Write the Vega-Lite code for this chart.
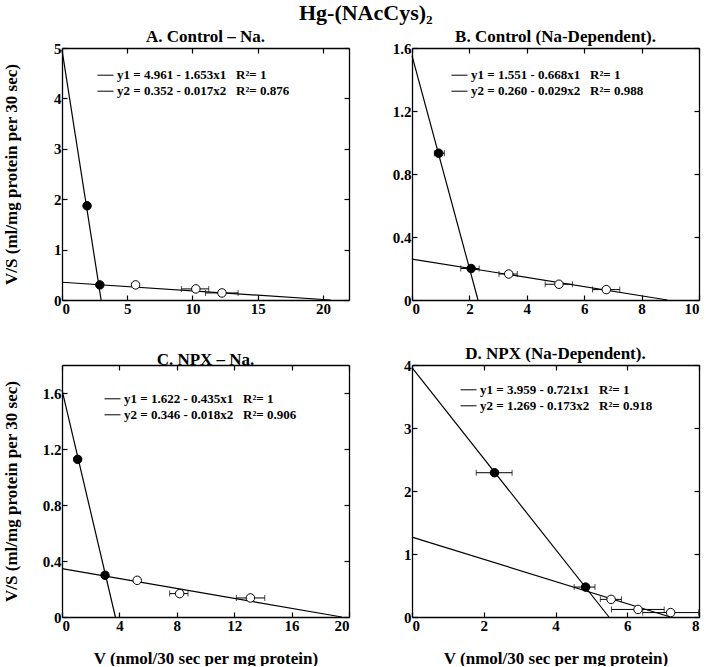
{
  "$schema": "https://vega.github.io/schema/vega-lite/v6.json",
  "padding": {"left": 1, "top": 2, "right": 5, "bottom": 0},
  "background": "white",
  "title": {"text": "Hg-(NAcCys)₂", "fontSize": 22, "fontWeight": "bold", "font": "Liberation Serif", "anchor": "middle", "offset": 3, "dx": 15},
  "datasets": {
    "linesA": [
      {"fit": "y1 = 4.961 - 1.653x1\u00a0\u00a0\u00a0R²= 1", "x": 0, "y": 4.961},
      {"fit": "y1 = 4.961 - 1.653x1\u00a0\u00a0\u00a0R²= 1", "x": 3.0, "y": 0},
      {"fit": "y2 = 0.352 - 0.017x2\u00a0\u00a0\u00a0R²= 0.876", "x": 0, "y": 0.352},
      {"fit": "y2 = 0.352 - 0.017x2\u00a0\u00a0\u00a0R²= 0.876", "x": 20.6, "y": 0}
    ],
    "ptsA": [
      {"kind": "filled", "x": 1.92, "y": 1.87, "lo": null, "hi": null},
      {"kind": "filled", "x": 2.9, "y": 0.30, "lo": null, "hi": null},
      {"kind": "open", "x": 5.64, "y": 0.30, "lo": null, "hi": null},
      {"kind": "open", "x": 10.26, "y": 0.22, "lo": 9.15, "hi": 11.25},
      {"kind": "open", "x": 12.26, "y": 0.14, "lo": 11.0, "hi": 13.5}
    ],
    "linesB": [
      {"fit": "y1 = 1.551 - 0.668x1\u00a0\u00a0\u00a0R²= 1", "x": 0, "y": 1.551},
      {"fit": "y1 = 1.551 - 0.668x1\u00a0\u00a0\u00a0R²= 1", "x": 2.3, "y": 0},
      {"fit": "y2 = 0.260 - 0.029x2\u00a0\u00a0\u00a0R²= 0.988", "x": 0, "y": 0.260},
      {"fit": "y2 = 0.260 - 0.029x2\u00a0\u00a0\u00a0R²= 0.988", "x": 8.9, "y": 0}
    ],
    "ptsB": [
      {"kind": "filled", "x": 0.93, "y": 0.932, "lo": 0.78, "hi": 1.13},
      {"kind": "filled", "x": 2.06, "y": 0.20, "lo": 1.70, "hi": 2.34},
      {"kind": "open", "x": 3.37, "y": 0.165, "lo": 3.03, "hi": 3.67},
      {"kind": "open", "x": 5.12, "y": 0.10, "lo": 4.64, "hi": 5.59},
      {"kind": "open", "x": 6.77, "y": 0.066, "lo": 6.29, "hi": 7.24}
    ],
    "linesC": [
      {"fit": "y1 = 1.622 - 0.435x1\u00a0\u00a0\u00a0R²= 1", "x": 0, "y": 1.622},
      {"fit": "y1 = 1.622 - 0.435x1\u00a0\u00a0\u00a0R²= 1", "x": 3.72, "y": 0},
      {"fit": "y2 = 0.346 - 0.018x2\u00a0\u00a0\u00a0R²= 0.906", "x": 0, "y": 0.346},
      {"fit": "y2 = 0.346 - 0.018x2\u00a0\u00a0\u00a0R²= 0.906", "x": 19.5, "y": 0}
    ],
    "ptsC": [
      {"kind": "filled", "x": 1.09, "y": 1.126, "lo": null, "hi": null},
      {"kind": "filled", "x": 3.0, "y": 0.298, "lo": null, "hi": null},
      {"kind": "open", "x": 5.24, "y": 0.262, "lo": null, "hi": null},
      {"kind": "open", "x": 8.2, "y": 0.167, "lo": 7.5, "hi": 8.78},
      {"kind": "open", "x": 13.13, "y": 0.136, "lo": 12.15, "hi": 14.13}
    ],
    "linesD": [
      {"fit": "y1 = 3.959 - 0.721x1\u00a0\u00a0\u00a0R²= 1", "x": 0, "y": 3.959},
      {"fit": "y1 = 3.959 - 0.721x1\u00a0\u00a0\u00a0R²= 1", "x": 5.49, "y": 0},
      {"fit": "y2 = 1.269 - 0.173x2\u00a0\u00a0\u00a0R²= 0.918", "x": 0, "y": 1.269},
      {"fit": "y2 = 1.269 - 0.173x2\u00a0\u00a0\u00a0R²= 0.918", "x": 7.2, "y": 0}
    ],
    "ptsD": [
      {"kind": "filled", "x": 2.30, "y": 2.29, "lo": 1.79, "hi": 2.79},
      {"kind": "filled", "x": 4.84, "y": 0.475, "lo": 4.52, "hi": 5.10},
      {"kind": "open", "x": 5.55, "y": 0.28, "lo": 5.25, "hi": 5.84},
      {"kind": "open", "x": 6.3, "y": 0.12, "lo": 5.56, "hi": 7.03},
      {"kind": "open", "x": 7.21, "y": 0.07, "lo": 6.43, "hi": 7.99}
    ]
  },
  "spacing": 25,
  "resolve": {"scale": {"color": "independent"}},
  "vconcat": [
    {
      "spacing": 36,
      "resolve": {"scale": {"color": "independent"}},
      "hconcat": [
        {
          "title": {"text": "A. Control – Na.", "offset": -5},
          "width": 287, "height": 252,
          "resolve": {"axis": {"x": "independent", "y": "independent"}},
          "layer": [
            {
              "data": {"name": "linesA"},
              "mark": {"type": "line", "color": "black", "strokeWidth": 1.2},
              "encoding": {
                "x": {"field": "x", "type": "quantitative", "scale": {"domain": [0, 22], "nice": false, "zero": false}, "axis": {"orient": "bottom", "values": [0, 5, 10, 15, 20], "format": "~f", "title": null, "minExtent": 20, "maxExtent": 20}},
                "y": {"field": "y", "type": "quantitative", "scale": {"domain": [0, 5], "nice": false, "zero": false}, "axis": {"orient": "left", "values": [0, 1, 2, 3, 4, 5], "format": "~f", "title": "V/S (ml/mg protein per 30 sec)", "titleX": -42, "minExtent": 26, "maxExtent": 26}},
                "color": {"field": "fit", "type": "nominal", "scale": {"domain": ["y1 = 4.961 - 1.653x1\u00a0\u00a0\u00a0R²= 1", "y2 = 0.352 - 0.017x2\u00a0\u00a0\u00a0R²= 0.876"], "range": ["black", "black"]}, "legend": {"legendX": 35, "legendY": 18.7}}
              }
            },
            {
              "data": {"name": "ptsA"},
              "transform": [{"filter": "isValid(datum.lo)"}],
              "mark": {"type": "errorbar", "color": "black", "thickness": 1, "ticks": {"size": 6, "thickness": 1}},
              "encoding": {
                "x": {"field": "lo", "type": "quantitative", "axis": null},
                "x2": {"field": "hi"},
                "y": {"field": "y", "type": "quantitative", "axis": null}
              }
            },
            {
              "data": {"name": "ptsA"},
              "mark": {"type": "point", "shape": "circle", "size": 72, "filled": true, "stroke": "black", "strokeWidth": 1, "opacity": 1},
              "encoding": {
                "x": {"field": "x", "type": "quantitative", "axis": {"orient": "top", "values": [0, 5, 10, 15, 20], "labels": false, "title": null, "minExtent": 0, "maxExtent": 0}},
                "y": {"field": "y", "type": "quantitative", "axis": {"orient": "right", "values": [0, 1, 2, 3, 4, 5], "labels": false, "title": null, "minExtent": 0, "maxExtent": 0}},
                "fill": {"field": "kind", "type": "nominal", "scale": {"domain": ["filled", "open"], "range": ["black", "white"]}, "legend": null}
              }
            }
          ]
        },
        {
          "title": {"text": "B. Control (Na-Dependent).", "offset": -5},
          "width": 287, "height": 252,
          "resolve": {"axis": {"x": "independent", "y": "independent"}},
          "layer": [
            {
              "data": {"name": "linesB"},
              "mark": {"type": "line", "color": "black", "strokeWidth": 1.2},
              "encoding": {
                "x": {"field": "x", "type": "quantitative", "scale": {"domain": [0, 10], "nice": false, "zero": false}, "axis": {"orient": "bottom", "values": [0, 2, 4, 6, 8, 10], "format": "~f", "title": null, "minExtent": 20, "maxExtent": 20}},
                "y": {"field": "y", "type": "quantitative", "scale": {"domain": [0, 1.6], "nice": false, "zero": false}, "axis": {"orient": "left", "values": [0, 0.4, 0.8, 1.2, 1.6], "format": "~f", "title": null, "minExtent": 26, "maxExtent": 26}},
                "color": {"field": "fit", "type": "nominal", "scale": {"domain": ["y1 = 1.551 - 0.668x1\u00a0\u00a0\u00a0R²= 1", "y2 = 0.260 - 0.029x2\u00a0\u00a0\u00a0R²= 0.988"], "range": ["black", "black"]}, "legend": {"legendX": 39, "legendY": 18.7}}
              }
            },
            {
              "data": {"name": "ptsB"},
              "transform": [{"filter": "isValid(datum.lo)"}],
              "mark": {"type": "errorbar", "color": "black", "thickness": 1, "ticks": {"size": 6, "thickness": 1}},
              "encoding": {
                "x": {"field": "lo", "type": "quantitative", "axis": null},
                "x2": {"field": "hi"},
                "y": {"field": "y", "type": "quantitative", "axis": null}
              }
            },
            {
              "data": {"name": "ptsB"},
              "mark": {"type": "point", "shape": "circle", "size": 72, "filled": true, "stroke": "black", "strokeWidth": 1, "opacity": 1},
              "encoding": {
                "x": {"field": "x", "type": "quantitative", "axis": {"orient": "top", "values": [0, 2, 4, 6, 8, 10], "labels": false, "title": null, "minExtent": 0, "maxExtent": 0}},
                "y": {"field": "y", "type": "quantitative", "axis": {"orient": "right", "values": [0, 0.4, 0.8, 1.2, 1.6], "labels": false, "title": null, "minExtent": 0, "maxExtent": 0}},
                "fill": {"field": "kind", "type": "nominal", "scale": {"domain": ["filled", "open"], "range": ["black", "white"]}, "legend": null}
              }
            }
          ]
        }
      ]
    },
    {
      "spacing": 36,
      "resolve": {"scale": {"color": "independent"}},
      "hconcat": [
        {
          "title": {"text": "C. NPX – Na.", "offset": -5},
          "width": 287, "height": 252,
          "resolve": {"axis": {"x": "independent", "y": "independent"}},
          "layer": [
            {
              "data": {"name": "linesC"},
              "mark": {"type": "line", "color": "black", "strokeWidth": 1.2},
              "encoding": {
                "x": {"field": "x", "type": "quantitative", "scale": {"domain": [0, 20], "nice": false, "zero": false}, "axis": {"orient": "bottom", "values": [0, 4, 8, 12, 16, 20], "format": "~f", "title": "V (nmol/30 sec per mg protein)", "titleY": 33, "minExtent": 20, "maxExtent": 20}},
                "y": {"field": "y", "type": "quantitative", "scale": {"domain": [0, 1.8], "nice": false, "zero": false}, "axis": {"orient": "left", "values": [0, 0.4, 0.8, 1.2, 1.6], "format": "~f", "title": "V/S (ml/mg protein per 30 sec)", "titleX": -42, "minExtent": 26, "maxExtent": 26}},
                "color": {"field": "fit", "type": "nominal", "scale": {"domain": ["y1 = 1.622 - 0.435x1\u00a0\u00a0\u00a0R²= 1", "y2 = 0.346 - 0.018x2\u00a0\u00a0\u00a0R²= 0.906"], "range": ["black", "black"]}, "legend": {"legendX": 42, "legendY": 25.3}}
              }
            },
            {
              "data": {"name": "ptsC"},
              "transform": [{"filter": "isValid(datum.lo)"}],
              "mark": {"type": "errorbar", "color": "black", "thickness": 1, "ticks": {"size": 6, "thickness": 1}},
              "encoding": {
                "x": {"field": "lo", "type": "quantitative", "axis": null},
                "x2": {"field": "hi"},
                "y": {"field": "y", "type": "quantitative", "axis": null}
              }
            },
            {
              "data": {"name": "ptsC"},
              "mark": {"type": "point", "shape": "circle", "size": 72, "filled": true, "stroke": "black", "strokeWidth": 1, "opacity": 1},
              "encoding": {
                "x": {"field": "x", "type": "quantitative", "axis": {"orient": "top", "values": [0, 4, 8, 12, 16, 20], "labels": false, "title": null, "minExtent": 0, "maxExtent": 0}},
                "y": {"field": "y", "type": "quantitative", "axis": {"orient": "right", "values": [0, 0.4, 0.8, 1.2, 1.6], "labels": false, "title": null, "minExtent": 0, "maxExtent": 0}},
                "fill": {"field": "kind", "type": "nominal", "scale": {"domain": ["filled", "open"], "range": ["black", "white"]}, "legend": null}
              }
            }
          ]
        },
        {
          "title": {"text": "D. NPX (Na-Dependent).", "offset": -5},
          "width": 287, "height": 252,
          "resolve": {"axis": {"x": "independent", "y": "independent"}},
          "layer": [
            {
              "data": {"name": "linesD"},
              "mark": {"type": "line", "color": "black", "strokeWidth": 1.2},
              "encoding": {
                "x": {"field": "x", "type": "quantitative", "scale": {"domain": [0, 8], "nice": false, "zero": false}, "axis": {"orient": "bottom", "values": [0, 2, 4, 6, 8], "format": "~f", "title": "V (nmol/30 sec per mg protein)", "titleY": 33, "minExtent": 20, "maxExtent": 20}},
                "y": {"field": "y", "type": "quantitative", "scale": {"domain": [0, 4], "nice": false, "zero": false}, "axis": {"orient": "left", "values": [0, 1, 2, 3, 4], "format": "~f", "title": null, "minExtent": 26, "maxExtent": 26}},
                "color": {"field": "fit", "type": "nominal", "scale": {"domain": ["y1 = 3.959 - 0.721x1\u00a0\u00a0\u00a0R²= 1", "y2 = 1.269 - 0.173x2\u00a0\u00a0\u00a0R²= 0.918"], "range": ["black", "black"]}, "legend": {"legendX": 48, "legendY": 16.3}}
              }
            },
            {
              "data": {"name": "ptsD"},
              "transform": [{"filter": "isValid(datum.lo)"}],
              "mark": {"type": "errorbar", "color": "black", "thickness": 1, "ticks": {"size": 6, "thickness": 1}},
              "encoding": {
                "x": {"field": "lo", "type": "quantitative", "axis": null},
                "x2": {"field": "hi"},
                "y": {"field": "y", "type": "quantitative", "axis": null}
              }
            },
            {
              "data": {"name": "ptsD"},
              "mark": {"type": "point", "shape": "circle", "size": 72, "filled": true, "stroke": "black", "strokeWidth": 1, "opacity": 1},
              "encoding": {
                "x": {"field": "x", "type": "quantitative", "axis": {"orient": "top", "values": [0, 2, 4, 6, 8], "labels": false, "title": null, "minExtent": 0, "maxExtent": 0}},
                "y": {"field": "y", "type": "quantitative", "axis": {"orient": "right", "values": [0, 1, 2, 3, 4], "labels": false, "title": null, "minExtent": 0, "maxExtent": 0}},
                "fill": {"field": "kind", "type": "nominal", "scale": {"domain": ["filled", "open"], "range": ["black", "white"]}, "legend": null}
              }
            }
          ]
        }
      ]
    }
  ],
  "config": {
    "font": "Liberation Serif",
    "view": {"stroke": null},
    "axis": {
      "domainColor": "black", "domainWidth": 1.3, "tickColor": "black", "tickSize": -5, "tickWidth": 1.2, "grid": false,
      "labelFont": "Liberation Serif", "labelFontSize": 15, "labelFontWeight": "bold", "labelColor": "black", "labelPadding": 6,
      "titleFont": "Liberation Serif", "titleFontSize": 17, "titleFontWeight": "bold", "titleColor": "black"
    },
    "title": {"font": "Liberation Serif", "fontSize": 17, "fontWeight": "bold", "color": "black"},
    "legend": {
      "orient": "none", "title": null, "labelFont": "Liberation Serif", "labelFontSize": 13, "labelFontWeight": "bold", "labelColor": "black",
      "labelLimit": 400, "symbolType": "stroke", "symbolSize": 256, "symbolStrokeWidth": 1, "symbolStrokeColor": "black", "labelOffset": 3, "rowPadding": 0, "padding": 0
    }
  }
}
